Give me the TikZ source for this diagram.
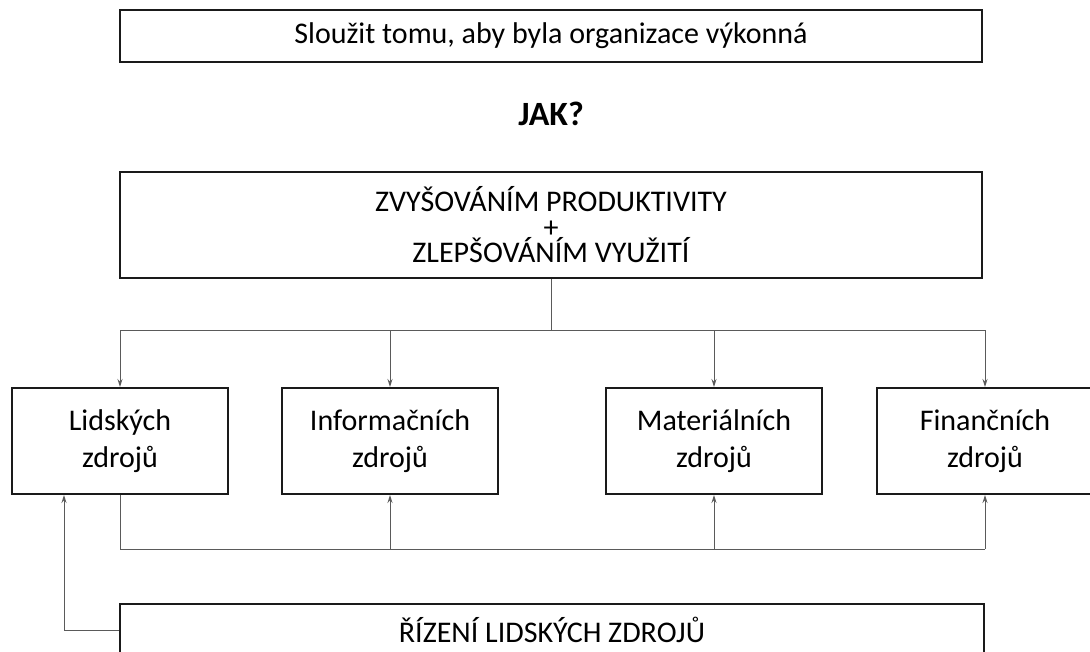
\documentclass[tikz,border=0pt]{standalone}
\usepackage{fontspec}
\setmainfont{Carlito}
\usepackage{tikz}
\usetikzlibrary{arrows.meta,positioning}

\definecolor{colorOne}{HTML}{1A1A1A}
\definecolor{colorTwo}{HTML}{5A5A5A}

\newcommand{\tightskip}{\setlength{\lineskiplimit}{-100pt}}

\tikzset{
    box/.style = {draw=colorOne, line width=2pt, minimum height=106pt, align=center,
        font=\fontsize{30pt}{37pt}\selectfont},
    wide/.style = {box, minimum width=862pt},
    res/.style = {box, minimum width=216pt},
    conn/.style = {line width=1pt, color=colorTwo},
    arr/.style = {conn, -{Stealth[length=8pt, width=5pt]}},
}

\begin{document}
\begin{tikzpicture}[x=1pt, y=-1pt]

    \clip (0,0) rectangle (1090,652);
    \fill[white] (0,0) rectangle (1090,652);

    % Cil nahore
    \node[wide, minimum height=52pt] (goal) at (551,36) {Sloužit tomu, aby byla organizace výkonná};
    \node[font=\fontsize{34pt}{40pt}\selectfont\bfseries] (jak) at (551,114) {JAK?};

    % Zpusob
    \node[wide, font=\fontsize{30pt}{25.5pt}\selectfont\tightskip] (how) at (551,225)
        {ZVYŠOVÁNÍM PRODUKTIVITY\\+\\ZLEPŠOVÁNÍM VYUŽITÍ};

    % Zdroje
    \node[res] (lid) at (120,441) {Lidských\\zdrojů};
    \node[res] (inf) at (390,441) {Informačních\\zdrojů};
    \node[res] (mat) at (714,441) {Materiálních\\zdrojů};
    \node[res] (fin) at (985,441) {Finančních\\zdrojů};

    % Rizeni
    \node[wide, minimum width=864pt, minimum height=52pt] (hr) at (552,630) {ŘÍZENÍ LIDSKÝCH ZDROJŮ};

    % Spojnice
    \coordinate (split) at (551,331);
    \coordinate (bus) at (985,549);
    \coordinate (fb) at (64,0);

    \draw[conn] (how.south) -- (split);
    \foreach \n in {lid,inf,mat,fin}
        \draw[arr] (split) -| (\n.north);

    \draw[conn] (lid.south) |- (bus);
    \draw[arr] (bus) -- (fin.south);
    \draw[arr] (inf.south |- bus) -- (inf.south);
    \draw[arr] (mat.south |- bus) -- (mat.south);

    \draw[arr] (hr.west) -| (fb |- lid.south);

\end{tikzpicture}
\end{document}
